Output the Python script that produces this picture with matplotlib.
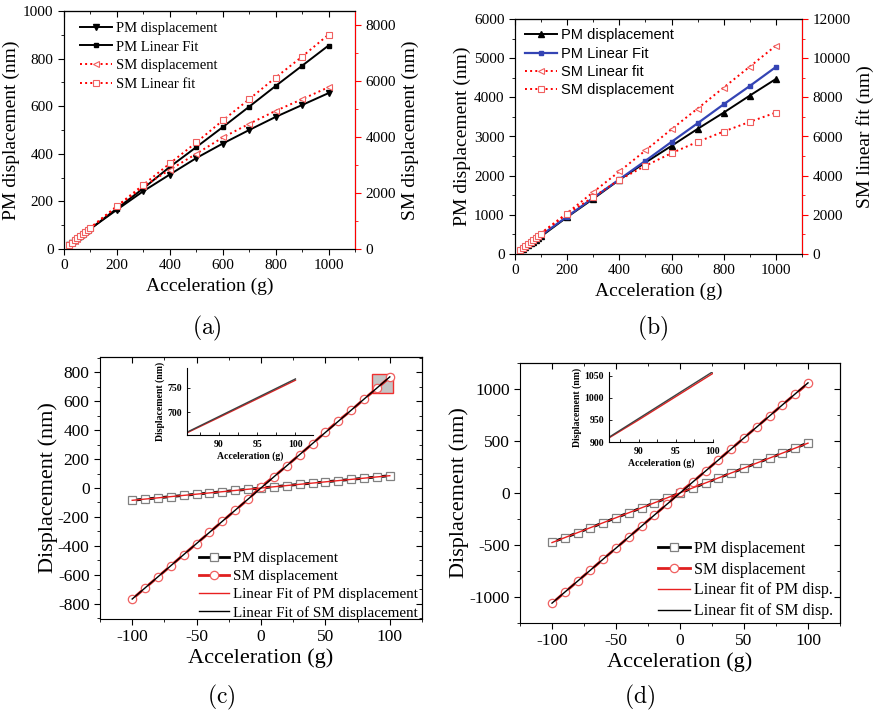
import numpy as np
import matplotlib
matplotlib.use("Agg")
import matplotlib.pyplot as plt
from matplotlib.patches import Rectangle
from matplotlib.ticker import MultipleLocator

plt.rcParams['font.family'] = 'Liberation Serif'
plt.rcParams['mathtext.fontset'] = 'cm'
plt.rcParams['axes.unicode_minus'] = False

# ---- data: panels (a) and (b), acceleration sweep 20..1000 g
acc_hi = [20, 30, 40, 50, 60, 70, 80, 90, 100, 200, 300, 400, 500, 600, 700, 800, 900, 1000]

a_pm_disp = [17, 25.5, 34, 42.5, 51, 59.5, 68, 76.5, 85, 165, 243, 313, 382, 443, 500, 555, 605, 655]
a_pm_fit = [17, 25.5, 34, 42.5, 51, 59.5, 68, 76.5, 85, 170, 255, 345, 428, 512, 598, 685, 770, 855]
a_sm_disp = [150, 225, 300, 375, 450, 525, 600, 675, 750, 1520, 2235, 2830, 3400, 3983, 4470, 4934, 5350, 5778]
a_sm_fit = [153, 230, 306, 383, 459, 536, 612, 689, 765, 1530, 2295, 3055, 3805, 4590, 5350, 6124, 6870, 7657]

b_pm_disp = [90, 135, 180, 225, 270, 315, 360, 405, 450, 943, 1410, 1895, 2336, 2761, 3195, 3611, 4045, 4469]
b_pm_fit = [96, 143, 191, 239, 287, 335, 382, 430, 478, 956, 1434, 1905, 2379, 2863, 3339, 3823, 4290, 4775]
b_sm_fit = [213, 320, 426, 533, 639, 746, 852, 959, 1070, 2091, 3162, 4215, 5286, 6374, 7428, 8500, 9570, 10640]
b_sm_disp = [200, 300, 400, 500, 600, 700, 800, 905, 1020, 2057, 2907, 3790, 4504, 5150, 5728, 6255, 6748, 7224]

# ---- data: panels (c) and (d), acceleration sweep -100..100 g
acc_lo = [-100, -90, -80, -70, -60, -50, -40, -30, -20, -10, 0, 10, 20, 30, 40, 50, 60, 70, 80, 90, 100]

c_pm_disp = [-85, -76.5, -68, -59.5, -51, -42.5, -34, -25.5, -17, -8.5, 0,
             8.5, 17, 25.5, 34, 42.5, 51, 59.5, 68, 76.5, 85]
c_sm_disp = [-768, -691, -614, -537, -460, -384, -307, -230, -154, -78, 8,
             78, 154, 230, 306, 386, 464, 536, 614, 689, 765]

d_pm_disp = [-472, -430, -382, -334, -286, -238, -190, -142, -95, -47, 0,
             48, 96, 144, 192, 240, 288, 336, 384, 432, 482]
d_sm_disp = [-1061, -955, -848, -742, -636, -530, -424, -318, -212, -106, 8,
             106, 212, 318, 424, 530, 636, 742, 848, 950, 1055]

W, H = 873, 712
fig = plt.figure(figsize=(W / 100, H / 100), dpi=100)


def px_axes(left, top, right, bottom):
    return fig.add_axes([left / W, 1 - bottom / H, (right - left) / W, (bottom - top) / H])


def mirror_ticks(ax, xmaj, xmin, ymaj=None, ymin=None):
    # Origin-style mirrored ticks pointing inward on the top (and right) spines
    top = ax.secondary_xaxis('top')
    top.xaxis.set_major_locator(MultipleLocator(xmaj))
    top.xaxis.set_minor_locator(MultipleLocator(xmin))
    top.tick_params(which='both', direction='in', labeltop=False)
    top.tick_params(which='major', length=4)
    top.tick_params(which='minor', length=2.5)
    if ymaj is not None:
        right = ax.secondary_yaxis('right')
        right.yaxis.set_major_locator(MultipleLocator(ymaj))
        right.yaxis.set_minor_locator(MultipleLocator(ymin))
        right.tick_params(which='both', direction='in', labelright=False)
        right.tick_params(which='major', length=4)
        right.tick_params(which='minor', length=2.5)


def twin_red(ax):
    tw = ax.twinx()
    tw.spines['right'].set_color('red')
    tw.tick_params(axis='y', which='both', colors='red', labelcolor='black', labelsize=11)
    tw.tick_params(which='major', length=4)
    tw.tick_params(which='minor', length=2.5)
    return tw


def base_axes(ax, xlim, ylim, xmaj, xmin, ymaj, ymin, labelsize):
    ax.set_xlim(*xlim)
    ax.set_ylim(*ylim)
    ax.xaxis.set_major_locator(MultipleLocator(xmaj))
    ax.xaxis.set_minor_locator(MultipleLocator(xmin))
    ax.yaxis.set_major_locator(MultipleLocator(ymaj))
    ax.yaxis.set_minor_locator(MultipleLocator(ymin))
    ax.tick_params(which='both', labelsize=labelsize)
    ax.tick_params(which='major', length=4)
    ax.tick_params(which='minor', length=2.5)


# ---------------- (a)
ax = px_axes(64, 11, 355, 249)
base_axes(ax, (0, 1100), (0, 1000), 200, 100, 200, 100, 11)
mirror_ticks(ax, 200, 100)
l1, = ax.plot(acc_hi, a_pm_disp, '-', color='black', lw=1.4, marker='v', ms=4)
l2, = ax.plot(acc_hi, a_pm_fit, '-', color='black', lw=1.4, marker='s', ms=3.5)
tw = twin_red(ax)
tw.set_ylim(0, 8500)
tw.yaxis.set_major_locator(MultipleLocator(2000))
tw.yaxis.set_minor_locator(MultipleLocator(1000))
l3, = tw.plot(acc_hi, a_sm_disp, ':', color='red', lw=1.4, marker='<', ms=5, mfc='white', mec='#f06060', mew=0.8)
l4, = tw.plot(acc_hi, a_sm_fit, ':', color='red', lw=1.4, marker='s', ms=5, mfc='white', mec='#f06060', mew=0.8)
ax.set_xlabel('Acceleration (g)', fontsize=14)
ax.set_ylabel('PM displacement (nm)', fontsize=14, labelpad=2)
tw.set_ylabel('SM displacement (nm)', fontsize=14)
tw.legend([l1, l2, l3, l4], ['PM displacement', 'PM Linear Fit', 'SM displacement', 'SM Linear fit'],
          loc='upper left', bbox_to_anchor=(0.035, 0.98), frameon=False, fontsize=10.5,
          handlelength=2.2, handletextpad=0.25, labelspacing=0.38, borderaxespad=0.0)
fig.text(207 / W, 1 - 328 / H, r'$\mathrm{(a)}$', fontsize=17, ha='center', va='center')

# ---------------- (b)
ax = px_axes(515, 19, 802, 254)
base_axes(ax, (0, 1100), (0, 6000), 200, 100, 1000, 500, 11)
mirror_ticks(ax, 200, 100)
m1, = ax.plot(acc_hi, b_pm_disp, '-', color='black', lw=1.4, marker='^', ms=4)
m2, = ax.plot(acc_hi, b_pm_fit, '-', color='#3444b4', lw=1.6, marker='s', ms=3.5)
tw = twin_red(ax)
tw.set_ylim(0, 12000)
tw.yaxis.set_major_locator(MultipleLocator(2000))
tw.yaxis.set_minor_locator(MultipleLocator(1000))
m3, = tw.plot(acc_hi, b_sm_fit, ':', color='red', lw=1.4, marker='<', ms=5, mfc='white', mec='#f06060', mew=0.8)
m4, = tw.plot(acc_hi, b_sm_disp, ':', color='red', lw=1.4, marker='s', ms=5, mfc='white', mec='#f06060', mew=0.8)
ax.set_xlabel('Acceleration (g)', fontsize=14)
ax.set_ylabel('PM displacement (nm)', fontsize=14, labelpad=2)
tw.set_ylabel('SM linear fit (nm)', fontsize=14)
tw.legend([m1, m2, m3, m4], ['PM displacement', 'PM Linear Fit', 'SM Linear fit', 'SM displacement'],
          loc='upper left', bbox_to_anchor=(0.015, 0.985), frameon=False,
          prop={'family': 'Liberation Sans', 'size': 10.5},
          handlelength=2.2, handletextpad=0.25, labelspacing=0.3, borderaxespad=0.0)
fig.text(653 / W, 1 - 328 / H, r'$\mathrm{(b)}$', fontsize=17, ha='center', va='center')


# ---------------- (c) and (d)
def sweep_panel(box, inset_box, pm, sm, ylim, ymaj, ymin, inset_xlim, inset_ylim, inset_yticks,
                labels, letter, letter_xy, leg_anchor, leg_size, zoom_box=False):
    ax = px_axes(*box)
    base_axes(ax, (-125, 125), ylim, 50, 25, ymaj, ymin, 12.5)
    mirror_ticks(ax, 50, 25, ymaj, ymin)

    pm_fit = np.polyval(np.polyfit(acc_lo, pm, 1), acc_lo)
    sm_fit = np.polyval(np.polyfit(acc_lo, sm, 1), acc_lo)

    if zoom_box:
        x0, x1 = inset_xlim
        y0, y1 = inset_ylim
        ax.add_patch(Rectangle((x0, y0), x1 - x0, y1 - y0, facecolor='#c4c4c4',
                               edgecolor='#f03030', lw=1.0, zorder=1.5))

    h1, = ax.plot(acc_lo, pm, '-', color='black', lw=2.0, marker='s', ms=5.5,
                  mfc='white', mec='#808080', mew=0.9, zorder=2)
    h2, = ax.plot(acc_lo, sm, '-', color='#e02020', lw=2.0, marker='o', ms=6,
                  mfc='white', mec='#f06060', mew=0.9, zorder=2)
    h3, = ax.plot(acc_lo, pm_fit, '-', color='#e82020', lw=1.0, zorder=3)
    h4, = ax.plot(acc_lo, sm_fit, '-', color='black', lw=1.0, zorder=3)
    ax.set_xlabel('Acceleration (g)', fontsize=16, labelpad=2)
    ax.set_ylabel('Displacement (nm)', fontsize=16, labelpad=0)
    ax.legend([h1, h2, h3, h4], labels, loc='lower left', bbox_to_anchor=leg_anchor,
              frameon=False, fontsize=leg_size, handlelength=2.0, handletextpad=0.25,
              labelspacing=0.3, borderaxespad=0.0)

    ins = px_axes(*inset_box)
    ins.plot(acc_lo, sm, '-', color='#e02020', lw=1.0)
    ins.plot(acc_lo, sm_fit, '-', color='#404040', lw=1.0)
    ins.set_xlim(*inset_xlim)
    ins.set_ylim(*inset_ylim)
    ins.set_xticks([90, 95, 100])
    ins.set_yticks(inset_yticks)
    ins.xaxis.set_minor_locator(MultipleLocator(2.5))
    ins.spines['top'].set_visible(False)
    ins.spines['right'].set_visible(False)
    ins.patch.set_alpha(0)
    ins.tick_params(which='both', direction='in', labelsize=7, length=2.5, width=0.6)
    for t in ins.get_xticklabels() + ins.get_yticklabels():
        t.set_fontweight('bold')
    ins.set_xlabel('Acceleration (g)', fontsize=7, fontweight='bold', labelpad=2)
    ins.set_ylabel('Displacement (nm)', fontsize=7, fontweight='bold', labelpad=2)
    fig.text(letter_xy[0] / W, 1 - letter_xy[1] / H, letter, fontsize=17, ha='center', va='center')


sweep_panel((100, 357, 422, 619), (187, 368, 313, 435), c_pm_disp, c_sm_disp,
            (-905, 905), 200, 100, (85.8, 102.3), (653, 790), [700, 750],
            ['PM displacement', 'SM displacement', 'Linear Fit of PM displacement',
             'Linear Fit of SM displacement'],
            r'$\mathrm{(c)}$', (221, 697), (0.29, -0.025), 10.8, zoom_box=True)

sweep_panel((520, 363, 840, 623), (609, 372, 713, 442), d_pm_disp, d_sm_disp,
            (-1250, 1250), 500, 250, (86, 100), (900, 1058), [900, 950, 1000, 1050],
            ['PM displacement', 'SM displacement', 'Linear fit of PM disp.',
             'Linear fit of SM disp.'],
            r'$\mathrm{(d)}$', (640, 697), (0.41, -0.01), 11.5)

fig.savefig('out.png', dpi=100)
